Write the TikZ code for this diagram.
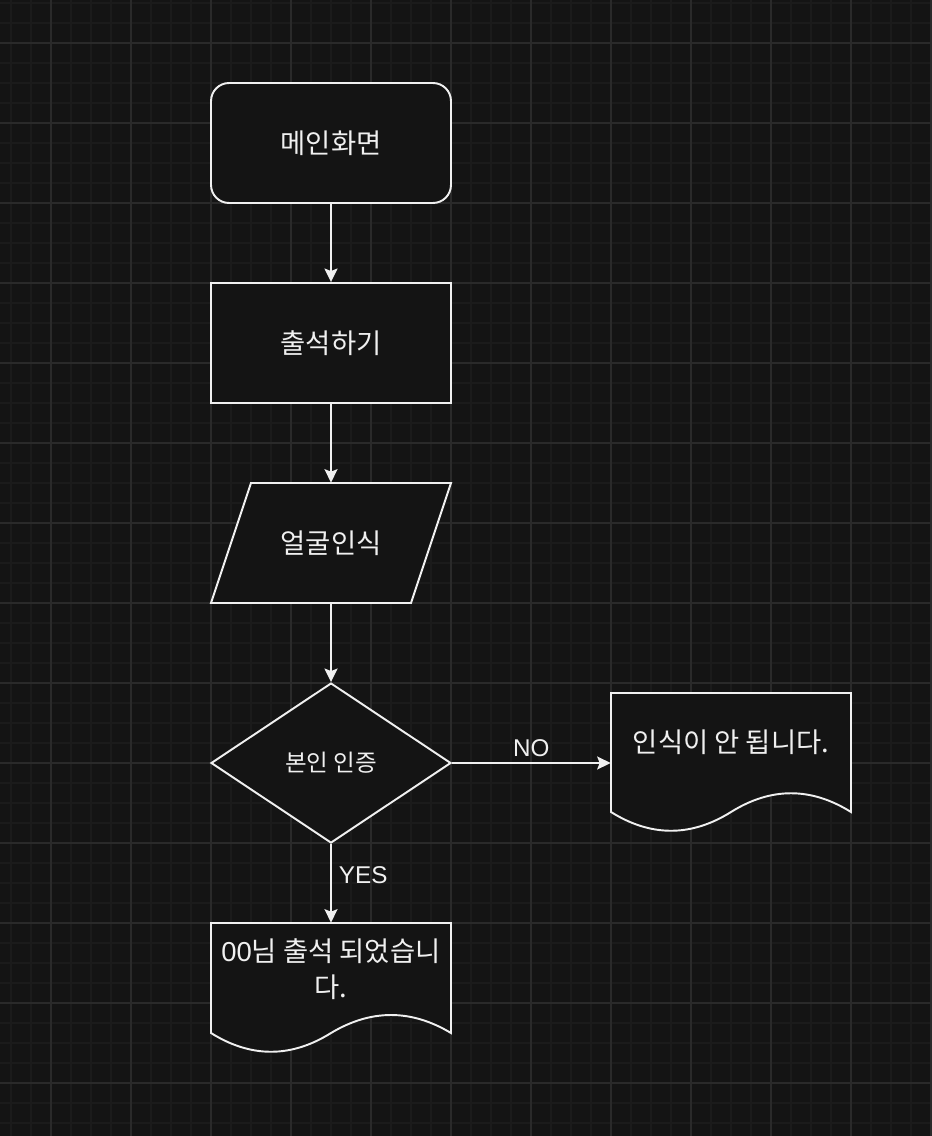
\documentclass[tikz,border=0pt]{standalone}
\usepackage{fontspec}
\setmainfont{Noto Sans CJK KR}
\newfontfamily\latinfont{Liberation Sans}
\usepackage{xcolor}
\usepackage{tikz}
\usetikzlibrary{arrows.meta,shapes.geometric}
\definecolor{bg}{HTML}{141414}
\definecolor{minorline}{HTML}{1B1B1B}
\definecolor{majorline}{HTML}{2A2A2A}
\definecolor{stroke}{HTML}{F0F0F0}
\tikzset{
  lab/.style={text=stroke, font=\fontsize{15.6}{20.5}\selectfont},
  elabel/.style={text=stroke, inner sep=0pt, font=\latinfont\fontsize{13.8}{15}\selectfont},
  shapeLine/.style={draw=stroke, fill=bg, line width=1.1pt},
  box/.style={shapeLine, lab, minimum width=4.8cm, minimum height=2.4cm},
  startbox/.style={box, rounded corners=0.36cm},
  plain/.style={lab, minimum width=4.8cm, minimum height=2.4cm},
  checkbox/.style={shapeLine, text=stroke, diamond, minimum width=4.8cm,
    minimum height=3.2cm, inner sep=0pt, font=\fontsize{13.4}{15}\selectfont},
  doctext/.style={lab, align=center, inner sep=0pt, minimum width=4.8cm},
  arr/.style={draw=stroke, line width=1.1pt,
    -{Stealth[length=0.27cm, width=0.26cm, inset=0.05cm]}},
  minorgrid/.style={draw=minorline, line width=0.6pt},
  majorgrid/.style={draw=majorline, line width=0.6pt}
}

\begin{document}
\begin{tikzpicture}[x=0.02cm, y=-0.02cm]
  \useasboundingbox (0,0) rectangle (932,1136);
  \fill[bg] (0,0) rectangle (932,1136);
  % grid
  \foreach \gx in {11,31,...,931} \draw[minorgrid] (\gx,0) -- (\gx,1136);
  \foreach \gy in {3,23,...,1123} \draw[minorgrid] (0,\gy) -- (932,\gy);
  \foreach \gx in {51,131,...,931} \draw[majorgrid] (\gx,0) -- (\gx,1136);
  \foreach \gy in {43,123,...,1123} \draw[majorgrid] (0,\gy) -- (932,\gy);

  \node[startbox] (main) at (331,143) {메인화면};
  \node[box] (attend) at (331,343) {출석하기};

  % input shape
  \draw[shapeLine] (251,483) -- (451,483) -- (411,603) -- (211,603) -- cycle;
  \node[plain] (face) at (331,543) {얼굴인식};

  \node[checkbox] (check) at (331,763) {본인 인증};

  % document shapes
  \draw[shapeLine] (611,693) -- (851,693) -- (851,812)
    .. controls (811,787) and (771,787) .. (731,812)
    .. controls (691,837) and (651,837) .. (611,812) -- cycle;
  \node[doctext, minimum height=1.96cm] (fail) at (731,742) {인식이 안 됩니다.};

  \draw[shapeLine] (211,923) -- (451,923) -- (451,1033)
    .. controls (411,1009) and (371,1009) .. (331,1033)
    .. controls (291,1058) and (251,1058) .. (211,1033) -- cycle;
  \node[doctext, minimum height=1.84cm] (done) at (331,969) {{\latinfont 00}님 출석 되었습니\\다.};

  \draw[arr] (main) -- (attend);
  \draw[arr] (attend) -- (face);
  \draw[arr] (face) -- (check);
  \draw[arr] (check.east) -- (check.east -| fail.west)
    node[elabel, midway, above=0.1cm] {NO};
  \draw[arr] (check.south) -- (done.north)
    node[elabel, pos=0.4, right=0.14cm] {YES};
\end{tikzpicture}
\end{document}
